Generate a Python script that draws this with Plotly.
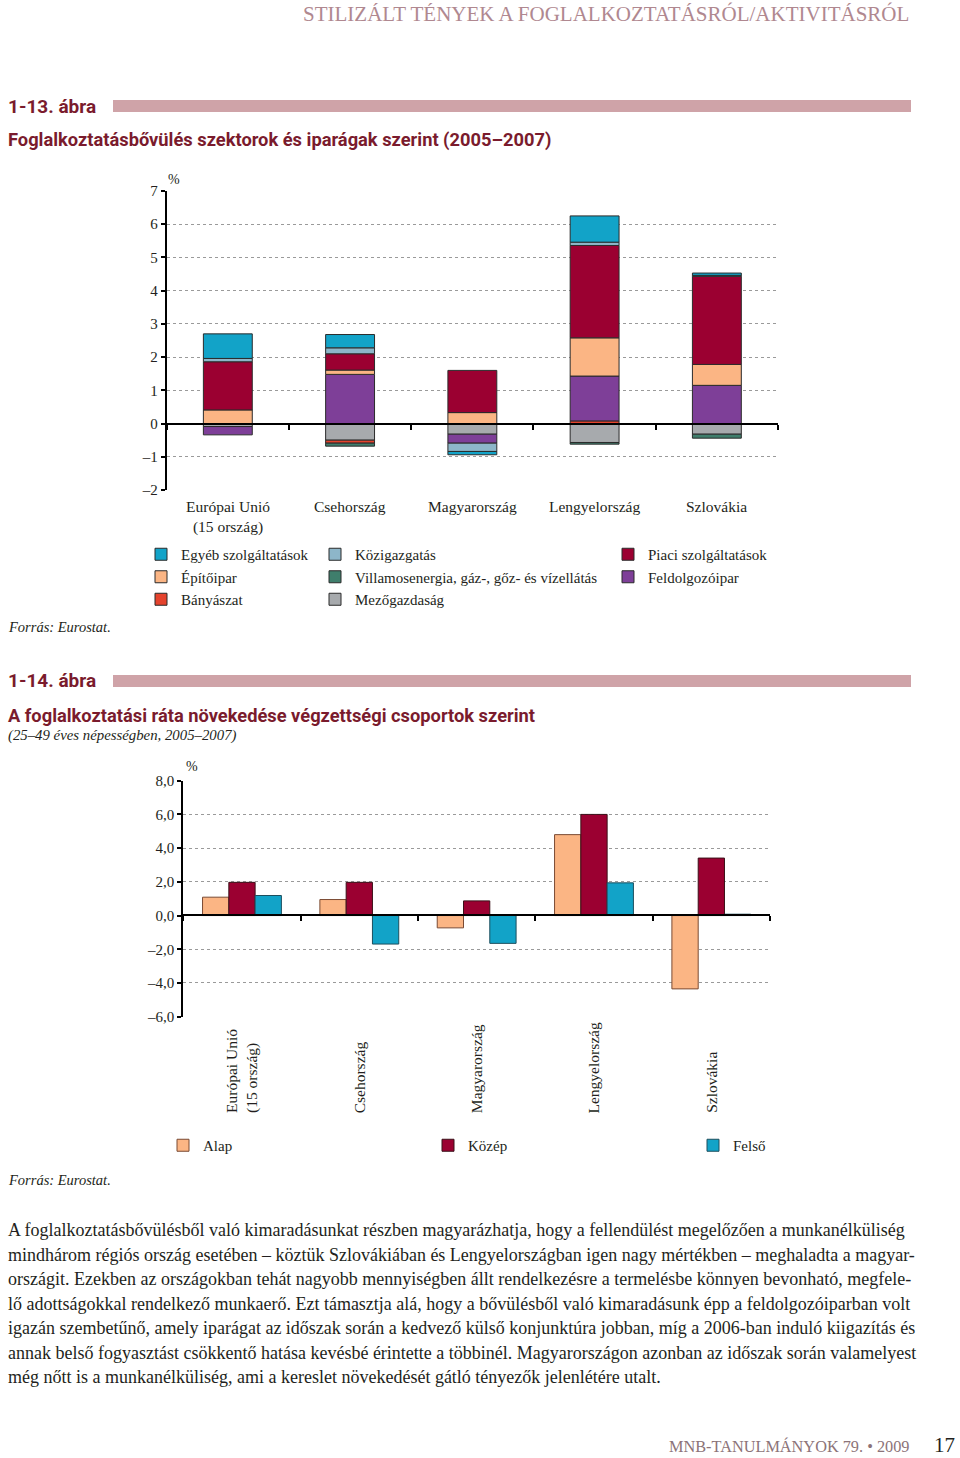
import plotly.graph_objects as go

W, H = 960, 1458
def px(p): return p / W
def py(p): return 1 - p / H

SERIF = "Liberation Serif, Times New Roman, serif"
HEAD = "Roboto, Liberation Sans, sans-serif"
MAROON = "#7A1B2D"
INK = "#231F20"

# ---------------- Chart 1 data ----------------
countries1 = ["Európai Unió<br>(15 ország)", "Csehország", "Magyarország", "Lengyelország", "Szlovákia"]
cat1 = ["EU15", "CZ", "HU", "PL", "SK"]
mezogazdasag = [-0.09, -0.50, -0.32, -0.57, -0.32]
banyaszat = [None, -0.09, None, 0.08, None]
feldolgozoipar = [-0.25, 1.48, -0.27, 1.35, 1.15]
villamosenergia = [None, -0.09, None, -0.05, -0.12]
epitoipar = [0.41, 0.13, 0.33, 1.15, 0.63]
piaci = [1.45, 0.49, 1.27, 2.78, 2.65]
kozigazgatas = [0.10, 0.18, -0.25, 0.10, 0.03]
egyeb = [0.74, 0.40, -0.10, 0.79, 0.07]

series1 = [
    ("Mezőgazdaság", mezogazdasag, "#A7AAAD", "legend2"),
    ("Bányászat", banyaszat, "#E5432D", "legend"),
    ("Feldolgozóipar", feldolgozoipar, "#7E3F98", "legend3"),
    ("Villamosenergia, gáz-, gőz- és vízellátás", villamosenergia, "#3F7E6C", "legend2"),
    ("Építőipar", epitoipar, "#FBB584", "legend"),
    ("Piaci szolgáltatások", piaci, "#9B0031", "legend3"),
    ("Közigazgatás", kozigazgatas, "#8DB6C9", "legend2"),
    ("Egyéb szolgáltatások", egyeb, "#12A3C8", "legend"),
]
y1_ticks = [-2, -1, 0, 1, 2, 3, 4, 5, 6, 7]
y1_text = ["–2", "–1", "0", "1", "2", "3", "4", "5", "6", "7"]

# ---------------- Chart 2 data ----------------
countries2 = ["Európai Unió<br>(15 ország)", "Csehország", "Magyarország", "Lengyelország", "Szlovákia"]
alap = [1.09, 0.95, -0.73, 4.80, -4.35]
kozep = [1.97, 1.97, 0.87, 6.00, 3.41]
felso = [1.19, -1.69, -1.65, 1.94, 0.08]
y2_ticks = [-6, -4, -2, 0, 2, 4, 6, 8]
y2_text = ["–6,0", "–4,0", "–2,0", "0,0", "2,0", "4,0", "6,0", "8,0"]

fig = go.Figure()

for name, vals, col, lg in series1:
    fig.add_trace(go.Bar(
        name=name, x=cat1, y=vals, xaxis="x", yaxis="y",
        marker=dict(color=col, line=dict(color="#2B2B2B", width=1)),
        legend=lg, hoverinfo="name+y",
    ))

series2 = [("Alap", alap, "#FBB584", "#7A4A33", "x2", -0.336),
           ("Közép", kozep, "#9B0031", "#3A1018", "x3", -0.112),
           ("Felső", felso, "#12A3C8", "#1C4F5E", "x4", 0.112)]
for name, vals, col, lc, xa, off in series2:
    fig.add_trace(go.Bar(
        name=name, x=cat1, y=vals, xaxis=xa, yaxis="y2",
        width=0.224, offset=off,
        marker=dict(color=col, line=dict(color=lc, width=1)),
        legend="legend4",
    ))

grid = dict(showgrid=True, gridcolor="#9A9A9A", griddash="dot", gridwidth=1,
            zeroline=False, showline=True, linecolor="black", linewidth=2,
            ticks="outside", ticklen=4, tickwidth=2, tickcolor="black",
            tickfont=dict(family=SERIF, size=15, color=INK))

xbase = dict(type="category", categoryorder="array", categoryarray=cat1,
             range=[-0.5, 4.5], showgrid=False, zeroline=False,
             showline=True, linecolor="black", linewidth=2,
             ticks="outside", tickson="boundaries", ticklen=5, tickwidth=2,
             tickcolor="black", showticklabels=False, fixedrange=True)

legfont = dict(family=SERIF, size=15, color=INK)
def vleg(xp):
    return dict(x=px(xp), y=py(538), xref="container", yref="container",
                xanchor="left", yanchor="top", traceorder="reversed",
                font=legfont, bgcolor="rgba(0,0,0,0)", tracegroupgap=0)

fig.update_layout(
    width=W, height=H, margin=dict(l=0, r=0, t=0, b=0, autoexpand=False),
    paper_bgcolor="white", plot_bgcolor="white",
    barmode="relative", bargap=0.6,
    font=dict(family=SERIF, size=15, color=INK),
    xaxis=dict(xbase, domain=[px(166.7), px(778)], anchor="free", position=py(424.3)),
    yaxis=dict(grid, domain=[py(490), py(191)], range=[-2, 7], anchor="x",
               tickvals=y1_ticks, ticktext=y1_text),
    xaxis2=dict(xbase, domain=[px(183.3), px(770)], anchor="free", position=py(915)),
    xaxis3=dict(xbase, overlaying="x2", matches="x2", visible=False),
    xaxis4=dict(xbase, overlaying="x2", matches="x2", visible=False),
    yaxis2=dict(grid, domain=[py(1016.7), py(780.7)], range=[-6, 8], anchor="x2",
                tickvals=y2_ticks, ticktext=y2_text),
    showlegend=True,
    legend=vleg(141),
    legend2=vleg(315),
    legend3=vleg(608),
    legend4=dict(x=px(163), y=py(1129), xref="container", yref="container",
                 xanchor="left", yanchor="top", orientation="h",
                 entrywidth=220, entrywidthmode="pixels",
                 font=legfont, bgcolor="rgba(0,0,0,0)"),
)

ann = []
def text(x, y, s, size=15, family=SERIF, color=INK, xanchor="left", yanchor="middle", **kw):
    ann.append(dict(x=px(x), y=py(y), xref="paper", yref="paper", text=s, showarrow=False,
                    xanchor=xanchor, yanchor=yanchor,
                    font=dict(family=family, size=size, color=color), **kw))

# header
text(911, 14, "STILIZÁLT TÉNYEK A FOGLALKOZTATÁSRÓL/AKTIVITÁSRÓL", size=21, color="#B08890", xanchor="right")
# figure 1 headings
text(6, 106, "<b>1-13. ábra</b>", size=19, family=HEAD, color=MAROON)
text(6, 140, "<b>Foglalkoztatásbővülés szektorok és iparágak szerint (2005–2007)</b>", size=18.3, family=HEAD, color=MAROON)
text(166, 179, "%", size=14)
for c, lab in zip(cat1, countries1):
    ann.append(dict(x=c, y=py(496), xref="x", yref="paper", text=lab, showarrow=False,
                    xanchor="center", yanchor="top", font=dict(family=SERIF, size=15.5, color=INK)))
text(6, 627, "<i>Forrás: Eurostat.</i>", size=14.5)

# figure 2 headings
text(6, 681, "<b>1-14. ábra</b>", size=19, family=HEAD, color=MAROON)
text(6, 715, "<b>A foglalkoztatási ráta növekedése végzettségi csoportok szerint</b>", size=18.3, family=HEAD, color=MAROON)
text(6, 735, "<i>(25–49 éves népességben, 2005–2007)</i>", size=14.8)
text(184, 767, "%", size=14)
for c, lab in zip(cat1, countries2):
    ann.append(dict(x=c, y=py(1115), xref="x2", yref="paper", text=lab, showarrow=False,
                    textangle=-90, align="left", xanchor="center", yanchor="bottom",
                    font=dict(family=SERIF, size=15.5, color=INK)))
text(6, 1180, "<i>Forrás: Eurostat.</i>", size=14.5)

body = [
    "A foglalkoztatásbővülésből való kimaradásunkat részben magyarázhatja, hogy a fellendülést megelőzően a munkanélküliség",
    "mindhárom régiós ország esetében – köztük Szlovákiában és Lengyelországban igen nagy mértékben – meghaladta a magyar-",
    "országit. Ezekben az országokban tehát nagyobb mennyiségben állt rendelkezésre a termelésbe könnyen bevonható, megfele-",
    "lő adottságokkal rendelkező munkaerő. Ezt támasztja alá, hogy a bővülésből való kimaradásunk épp a feldolgozóiparban volt",
    "igazán szembetűnő, amely iparágat az időszak során a kedvező külső konjunktúra jobban, míg a 2006-ban induló kiigazítás és",
    "annak belső fogyasztást csökkentő hatása kevésbé érintette a többinél. Magyarországon azonban az időszak során valamelyest",
    "még nőtt is a munkanélküliség, ami a kereslet növekedését gátló tényezők jelenlétére utalt.",
]
for i, line in enumerate(body):
    text(6, 1230 + i * 24.5, line, size=18)

text(911, 1446, "MNB-TANULMÁNYOK 79. • 2009", size=16.3, color="#8C7378", xanchor="right")
text(957, 1445, "17", size=21, color=INK, xanchor="right")

fig.update_layout(annotations=ann, shapes=[
    dict(type="rect", xref="paper", yref="paper", x0=px(113), x1=px(911), y0=py(112), y1=py(100),
         fillcolor="#CFA3A8", line=dict(width=0)),
    dict(type="rect", xref="paper", yref="paper", x0=px(113), x1=px(911), y0=py(687), y1=py(675),
         fillcolor="#CFA3A8", line=dict(width=0)),
])

fig.write_html("out.html", config={"displayModeBar": False},
               post_script="document.body.style.margin='0px';")
